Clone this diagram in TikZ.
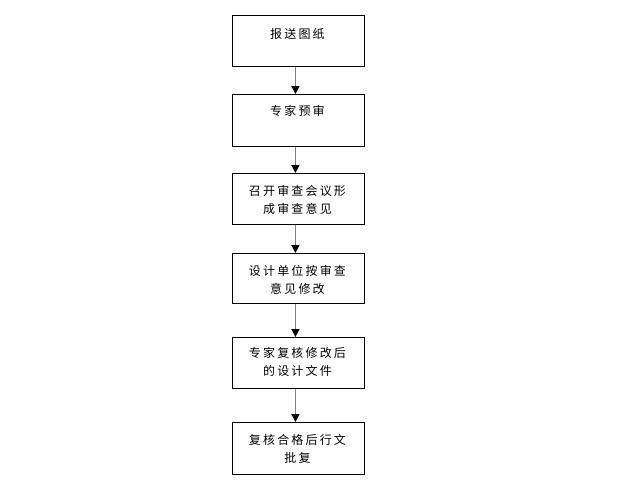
\documentclass[tikz,border=0pt]{standalone}
\usepackage{fontspec}
\setmainfont{Noto Sans CJK SC}[LetterSpace=18]
\usetikzlibrary{arrows.meta}
\definecolor{arrowgray}{RGB}{128,128,128}
\begin{document}
\begin{tikzpicture}[x=1pt,y=-1pt,
  flowbox/.style={draw=black,line width=0.9pt,minimum width=132pt,minimum height=#1,inner sep=0pt},
  flowtext/.style={anchor=north,inner sep=0pt,align=center,font=\fontsize{12pt}{18.5pt}\selectfont},
  flowarrow/.style={draw=arrowgray,line width=1.5pt,-{Triangle[length=8pt,width=8pt,color=black]}}]
\useasboundingbox (0,0) rectangle (633,480);
\node[flowbox=51pt,anchor=north west] (b1) at (232,15) {};
\node[flowbox=52pt,anchor=north west] (b2) at (232,94) {};
\node[flowbox=51pt,anchor=north west] (b3) at (232,173) {};
\node[flowbox=50pt,anchor=north west] (b4) at (232,253) {};
\node[flowbox=51pt,anchor=north west] (b5) at (232,337) {};
\node[flowbox=52pt,anchor=north west] (b6) at (232,422) {};
\node[flowtext] (t1) at ([xshift=-1pt,yshift=-13pt]b1.north) {报送图纸};
\node[flowtext] (t2) at ([xshift=-1pt,yshift=-11pt]b2.north) {专家预审};
\node[flowtext] (t3) at ([xshift=-1pt,yshift=-12pt]b3.north) {召开审查会议形\\成审查意见};
\node[flowtext] (t4) at ([xshift=-1pt,yshift=-12pt]b4.north) {设计单位按审查\\意见修改};
\node[flowtext] (t5) at ([xshift=-1pt,yshift=-10pt]b5.north) {专家复核修改后\\的设计文件};
\node[flowtext] (t6) at ([xshift=-1pt,yshift=-12pt]b6.north) {复核合格后行文\\批复};
\foreach \a/\b in {b1/b2,b2/b3,b3/b4,b4/b5,b5/b6}
  \draw[flowarrow] ([xshift=-3pt]\a.south) -- ([xshift=-3pt]\b.north);
\end{tikzpicture}
\end{document}
